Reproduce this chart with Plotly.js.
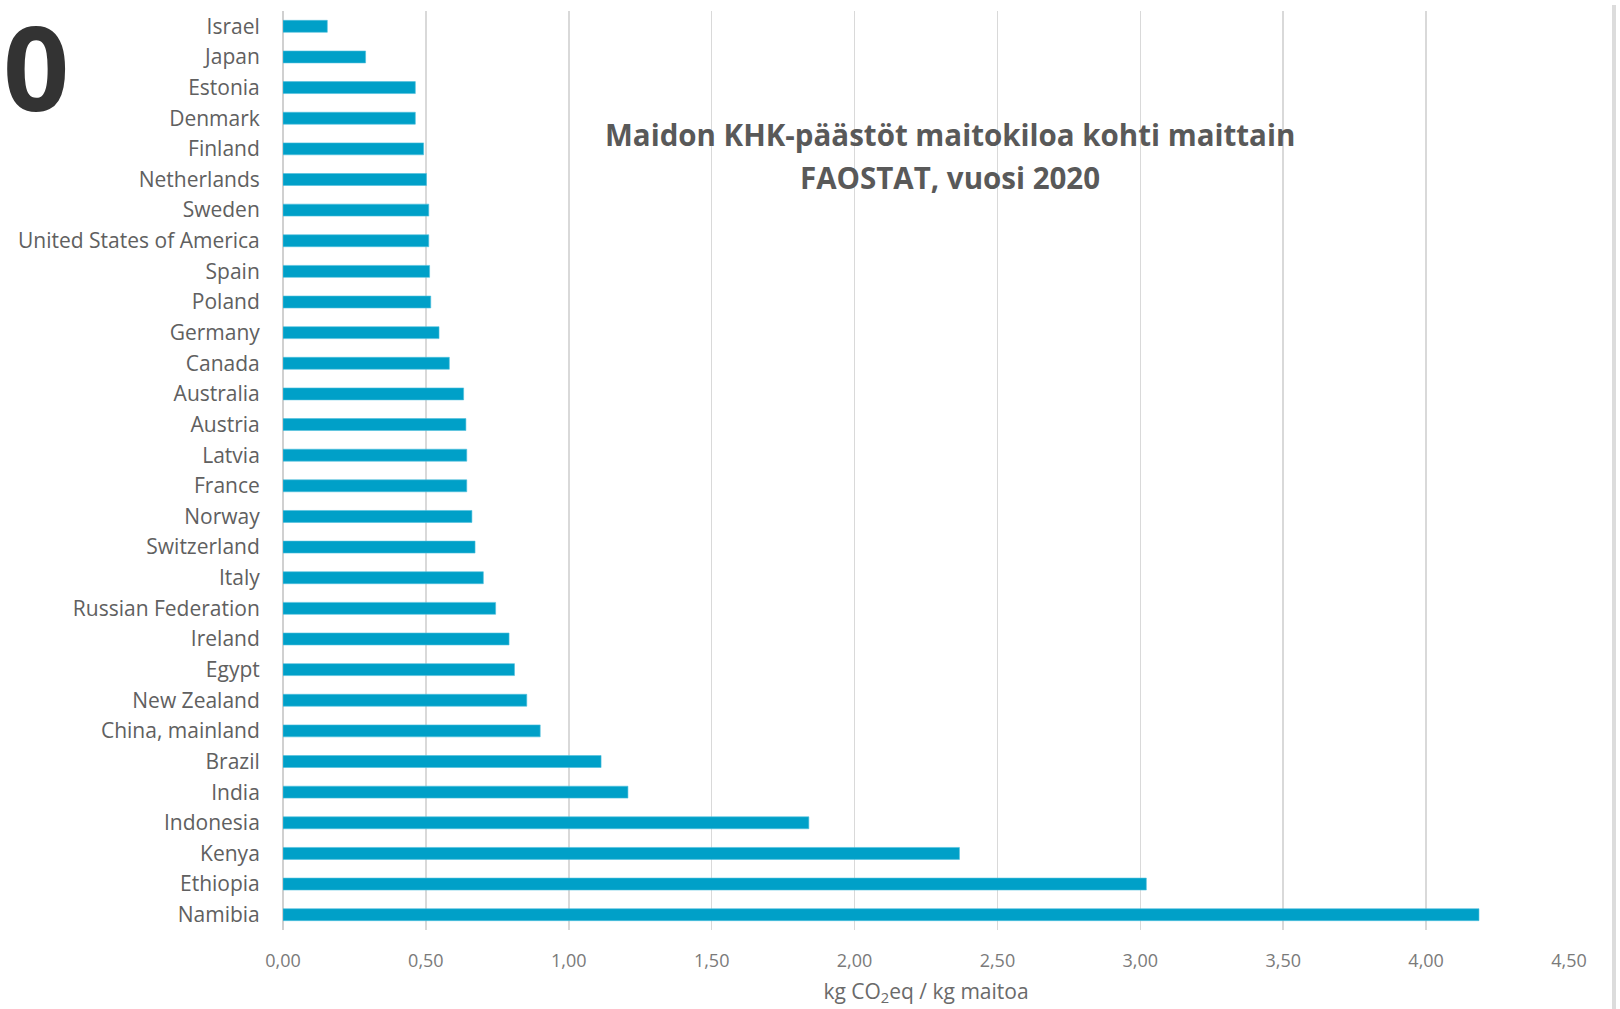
<!DOCTYPE html>
<html>
<head>
<meta charset="utf-8">
<script src="https://cdn.plot.ly/plotly-3.0.1.min.js"></script>
<style>html,body{margin:0;padding:0;background:#fff;}#chart{width:1620px;height:1009px;}</style>
</head>
<body>
<div id="chart"></div>
<script>
const countries = ["Israel","Japan","Estonia","Denmark","Finland","Netherlands","Sweden","United States of America","Spain","Poland","Germany","Canada","Australia","Austria","Latvia","France","Norway","Switzerland","Italy","Russian Federation","Ireland","Egypt","New Zealand","China, mainland","Brazil","India","Indonesia","Kenya","Ethiopia","Namibia"];
const emissions = [0.155,0.289,0.463,0.463,0.492,0.502,0.510,0.510,0.513,0.517,0.546,0.582,0.632,0.640,0.643,0.643,0.661,0.672,0.701,0.744,0.791,0.810,0.853,0.900,1.113,1.207,1.840,2.367,3.021,4.185];
const xTickVals = [0,0.5,1,1.5,2,2.5,3,3.5,4,4.5];
const titleLine1 = "Maidon KHK-päästöt maitokiloa kohti maittain";
const titleLine2 = "FAOSTAT, vuosi 2020";
const xTitle = "kg CO<sub>2</sub>eq / kg maitoa";
const cornerText = "0";

const trace = {
  type: "bar", orientation: "h",
  x: emissions, y: countries,
  marker: {color: "#00A0C8", line: {color: "#4FC0DD", width: 0.6}},
  width: 0.39,
  hoverinfo: "x+y"
};

const titleFont = {size: 29.5, color: "#595959", family: "Open Sans, Noto Sans, sans-serif", weight: "bold"};

const layout = {
  width: 1620, height: 1009,
  paper_bgcolor: "#ffffff", plot_bgcolor: "#ffffff",
  separators: ", ",
  margin: {l: 283, r: 51, t: 11, b: 79},
  font: {family: "Open Sans, Noto Sans, sans-serif", color: "#595959"},
  showlegend: false,
  xaxis: {
    range: [0, 4.5], tickvals: xTickVals, tickformat: ".2f",
    showgrid: true, gridcolor: "#d9d9d9", gridwidth: 1.5,
    zeroline: true, zerolinecolor: "#d0d0d0", zerolinewidth: 2,
    showline: false, ticks: "outside", ticklen: 14, tickcolor: "rgba(0,0,0,0)",
    tickfont: {size: 18, color: "#7a7a7a"},
    title: {text: xTitle, font: {size: 21, color: "#6a6a6a"}, standoff: 13}
  },
  yaxis: {
    type: "category", categoryorder: "array", categoryarray: countries,
    autorange: "reversed", showgrid: false, zeroline: false, showline: false,
    ticks: "outside", ticklen: 18, tickcolor: "rgba(0,0,0,0)",
    tickfont: {size: 21, color: "#606060"}
  },
  annotations: [
    {text: titleLine1, xref: "paper", yref: "paper", x: 0.519, y: 0.866, xanchor: "center", yanchor: "middle",
     showarrow: false, font: titleFont},
    {text: titleLine2, xref: "paper", yref: "paper", x: 0.519, y: 0.819, xanchor: "center", yanchor: "middle",
     showarrow: false, font: titleFont},
    {text: "<b>" + cornerText + "</b>", xref: "paper", yref: "paper", x: -0.219, y: 0.94, xanchor: "left", yanchor: "middle",
     showarrow: false, font: {size: 116, color: "#333333", family: "Open Sans, sans-serif"}}
  ],
  shapes: [
    {type: "line", xref: "paper", yref: "paper", x0: 1.035, x1: 1.035, y0: 1.0065, y1: -0.09,
     line: {color: "#dcdcdc", width: 4}}
  ]
};

Plotly.newPlot("chart", [trace], layout, {displayModeBar: false, staticPlot: true});
</script>
</body>
</html>
